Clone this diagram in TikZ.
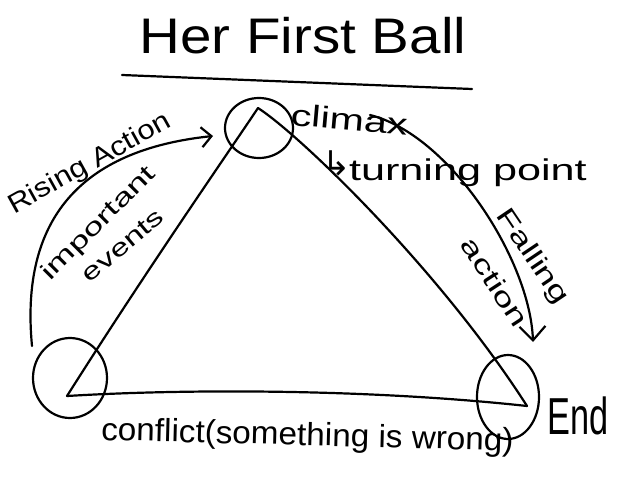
\documentclass[tikz,border=0pt]{standalone}
\usepackage{fontspec}
\setmainfont{Liberation Sans}
\newfontfamily\symfont{DejaVu Sans}
\usetikzlibrary{arrows.meta,shapes.geometric}
\newcommand\hwtext[3]{\scalebox{#1}[1]{\fontsize{#2}{#2}\selectfont #3}}
\begin{document}
\begin{tikzpicture}[x=1pt,y=-1pt,
  ink/.style={line width=2.2pt, line cap=round, line join=round, black},
  ring/.style={ellipse, draw, line width=2.2pt, inner sep=0pt, outer sep=0pt},
  lbl/.style={inner sep=0pt, outer sep=0pt, text=black}]
\useasboundingbox[fill=white] (0,0) rectangle (638,479);

% title
\node[lbl, anchor=base] (title) at (303,53) {\hwtext{1.13}{50}{Her First Ball}};
\coordinate (u1) at (122,75);
\coordinate (u2) at (472,89);
\draw[ink] (u1) -- (u2);

% vertices
\coordinate (T) at (258,108);
\coordinate (BL) at (67,396);
\coordinate (BR) at (527,406);

% circles
\node[ring, minimum width=68pt, minimum height=60pt] (ctop) at (259,128) {};
\node[ring, minimum width=74pt, minimum height=80pt] (cleft) at (70,378) {};
\node[ring, minimum width=62pt, minimum height=84pt] (cright) at (508,397) {};

% triangle
\draw[ink] (T) .. controls (230,150) and (150,265) .. (BL);
\draw[ink] (T) .. controls (300,135) and (440,270) .. (BR);
\draw[ink] (BL) .. controls (200,388) and (380,390) .. (BR);

% rising action arc
\coordinate (ra1) at (32,346);
\coordinate (ra2) at (213,136);
\draw[ink, -{Straight Barb[length=10pt,width=20pt]}] (ra1) .. controls (20,220) and (80,150) .. (ra2);

% falling action arc
\coordinate (fa1) at (370,115);
\coordinate (fa2) at (533,342);
\draw[ink, -{Straight Barb[length=14pt,width=26pt]}] (fa1) .. controls (450,135) and (530,260) .. (fa2);

% labels
\node[lbl, anchor=base west, rotate=-5] (climax) at (290,125) {\hwtext{1.38}{30}{climax}};
\node[lbl] (turnarrow) at (337,163) {\symfont\fontsize{34}{34}\selectfont ↳};
\node[lbl, anchor=base west] (turning) at (349,180) {\hwtext{1.44}{30}{turning point}};
\node[lbl, rotate=-56] (falling) at (532,257) {\hwtext{1.43}{26}{Falling}};
\node[lbl, rotate=-57] (action) at (495,282) {\hwtext{1.45}{26}{action}};
\node[lbl, rotate=29] (rising) at (90,164) {\hwtext{1.15}{27}{Rising Action}};
\node[lbl, rotate=45] (important) at (99,224) {\hwtext{1.5}{24}{important}};
\node[lbl, rotate=40] (events) at (123,246) {\hwtext{1.4}{24}{events}};
\node[lbl, anchor=base west, rotate=-1.5] (conflict) at (101,440) {\hwtext{1.04}{32}{conflict(something is wrong)}};
\node[lbl, anchor=base] (end) at (578,434) {\hwtext{0.66}{52}{End}};
\end{tikzpicture}
\end{document}
